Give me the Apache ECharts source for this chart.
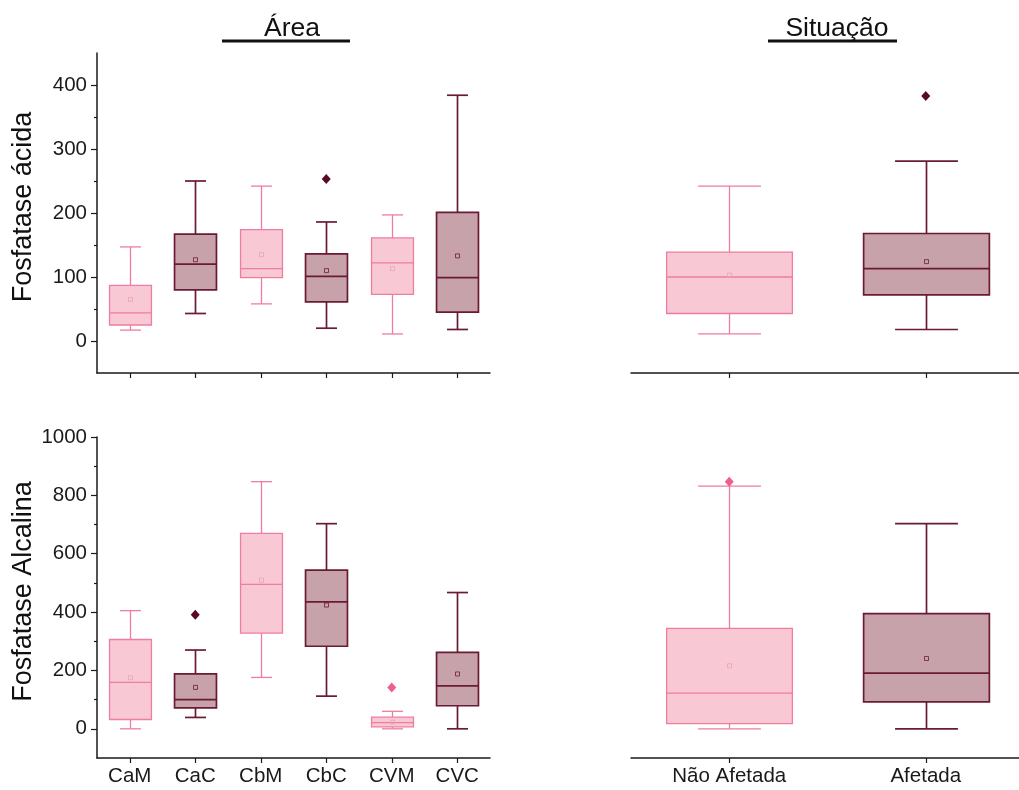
<!DOCTYPE html>
<html>
<head>
<meta charset="utf-8">
<script src="https://cdn.jsdelivr.net/npm/echarts@6/dist/echarts.min.js"></script>
<style>
html,body{margin:0;padding:0;background:#fff;}
#c{width:1019px;height:790px;}
</style>
</head>
<body>
<div id="c"></div>
<script>
// ---------- DATA ----------
const areaCats = ['CaM', 'CaC', 'CbM', 'CbC', 'CVM', 'CVC'];
const sitCats = ['Não Afetada', 'Afetada'];

// [min, Q1, median, Q3, max]
const acidArea = [
  [17, 25, 44, 87, 147],
  [43, 80, 120, 167, 250],
  [58, 99, 113, 174, 242],
  [20, 61, 101, 136, 186],
  [11, 73, 122, 161, 197],
  [18, 45, 99, 201, 384]
];
const acidAreaMean = [65, 127, 135, 110, 113, 133];
const acidAreaOutliers = [[3, 253]];

const alkArea = [
  [0, 32, 159, 306, 405],
  [39, 72, 100, 188, 270],
  [176, 328, 495, 670, 847],
  [112, 283, 435, 544, 703],
  [0, 7, 21, 40, 60],
  [0, 79, 147, 262, 467]
];
const alkAreaMean = [175, 142, 509, 424, 23, 188];
const alkAreaOutliers = [[1, 391], [4, 142]];

const acidSit = [
  [11, 43, 100, 139, 242],
  [18, 72, 113, 168, 281]
];
const acidSitMean = [103, 124];
const acidSitOutliers = [[1, 383]];

const alkSit = [
  [0, 18, 122, 344, 832],
  [0, 92, 191, 395, 703]
];
const alkSitMean = [216, 241];
const alkSitOutliers = [[0, 847]];

const acidTicks = [0, 100, 200, 300, 400];
const acidMinorTicks = [50, 150, 250, 350];
const alkTicks = [0, 200, 400, 600, 800, 1000];
const alkMinorTicks = [100, 300, 500, 700, 900];

const acidName = 'Fosfatase ácida';
const alkName = 'Fosfatase Alcalina';
const areaTitle = 'Área';
const sitTitle = 'Situação';

// ---------- STYLE ----------
const FONT = '"Liberation Sans", Arial, sans-serif';
const TONE = {
  light: { fill: '#f9c8d5', stroke: '#ee7d9f', mean: '#e9a3b6', out: '#ef5f8b', lw: 1.3 },
  dark:  { fill: '#c8a2ab', stroke: '#6a1b33', mean: '#6a1b33', out: '#5a0925', lw: 1.7 }
};
const areaTone = i => (i % 2 === 0 ? TONE.light : TONE.dark);
const sitTone = i => (i === 0 ? TONE.light : TONE.dark);

function buildBoxData(stats, means) {
  return stats.map((s, i) => [i].concat(s).concat([means[i]]));
}

function makeRender(toneFn) {
  return function (params, api) {
    const i = api.value(0);
    const t = toneFn(i);
    const band = api.size([1, 0])[0];
    const bw = band * 0.64;
    const cw = bw / 2;
    const pMin = api.coord([i, api.value(1)]);
    const pQ1 = api.coord([i, api.value(2)]);
    const pMed = api.coord([i, api.value(3)]);
    const pQ3 = api.coord([i, api.value(4)]);
    const pMax = api.coord([i, api.value(5)]);
    const pMean = api.coord([i, api.value(6)]);
    const x = Math.round(pMin[0]) + 0.5;
    const ls = { stroke: t.stroke, lineWidth: t.lw };
    return {
      type: 'group',
      children: [
        { type: 'line', shape: { x1: x, y1: pMax[1], x2: x, y2: pQ3[1] }, style: ls },
        { type: 'line', shape: { x1: x, y1: pQ1[1], x2: x, y2: pMin[1] }, style: ls },
        { type: 'line', shape: { x1: x - cw / 2, y1: pMax[1], x2: x + cw / 2, y2: pMax[1] }, style: ls },
        { type: 'line', shape: { x1: x - cw / 2, y1: pMin[1], x2: x + cw / 2, y2: pMin[1] }, style: ls },
        { type: 'rect', shape: { x: x - bw / 2, y: pQ3[1], width: bw, height: pQ1[1] - pQ3[1] },
          style: { fill: t.fill, stroke: t.stroke, lineWidth: t.lw } },
        { type: 'line', shape: { x1: x - bw / 2, y1: pMed[1], x2: x + bw / 2, y2: pMed[1] }, style: ls },
        { type: 'rect', shape: { x: x - 2, y: pMean[1] - 2, width: 4, height: 4 },
          style: { fill: 'none', stroke: t.mean, lineWidth: 0.8 } }
      ]
    };
  };
}

const grids = [
  { left: 97, top: 53, width: 393, height: 320 },
  { left: 97, top: 437, width: 393, height: 321 },
  { left: 631, top: 53, width: 393, height: 320 },
  { left: 631, top: 437, width: 393, height: 321 }
].map(g => Object.assign({ outerBoundsMode: 'none', containLabel: false }, g));

const axisLine = { show: true, onZero: false, lineStyle: { color: '#1a1a1a', width: 1.5 } };

function xAx(gi, cats, showLabel) {
  return {
    type: 'category', gridIndex: gi, data: cats, boundaryGap: true,
    axisLine: axisLine,
    axisTick: { show: true, alignWithLabel: true, length: 5, lineStyle: { color: '#1a1a1a', width: 1.2 } },
    axisLabel: { show: showLabel, fontFamily: FONT, fontSize: 20.5, color: '#1a1a1a', margin: 8 },
    splitLine: { show: false }
  };
}

function yMain(gi, min, max, interval, ticks, name, visible) {
  return {
    type: 'value', gridIndex: gi, min: min, max: max, interval: interval,
    show: visible,
    name: visible ? name : '',
    nameLocation: 'middle', nameGap: 60, nameMoveOverlap: false,
    nameTextStyle: { fontFamily: FONT, fontSize: 27, color: '#111', padding: [0, 0, 0, 12] },
    axisLine: axisLine,
    axisTick: { show: true, length: 6, customValues: ticks, lineStyle: { color: '#1a1a1a', width: 1.2 } },
    axisLabel: { show: true, customValues: ticks, formatter: v => String(v),
      fontFamily: FONT, fontSize: 20.5, color: '#1a1a1a', margin: 10 },
    splitLine: { show: false }
  };
}

function yMinor(gi, min, max, interval, ticks) {
  return {
    type: 'value', gridIndex: gi, min: min, max: max, interval: interval, position: 'left',
    axisLine: { show: false, onZero: false },
    axisTick: { show: true, length: 3, customValues: ticks, lineStyle: { color: '#1a1a1a', width: 1.2 } },
    axisLabel: { show: false },
    splitLine: { show: false }
  };
}

const xAxis = [
  xAx(0, areaCats, false),
  xAx(1, areaCats, true),
  xAx(2, sitCats, false),
  xAx(3, sitCats, true)
];

const yAxis = [
  yMain(0, -50, 450, 50, acidTicks, acidName, true),
  yMain(1, -100, 1000, 100, alkTicks, alkName, true),
  yMain(2, -50, 450, 50, acidTicks, '', false),
  yMain(3, -100, 1000, 100, alkTicks, '', false),
  yMinor(0, -50, 450, 50, acidMinorTicks),
  yMinor(1, -100, 1000, 100, alkMinorTicks)
];

function boxSeries(idx, stats, means, toneFn) {
  return {
    type: 'custom', xAxisIndex: idx, yAxisIndex: idx,
    renderItem: makeRender(toneFn),
    encode: { x: 0, y: [1, 2, 3, 4, 5, 6] },
    data: buildBoxData(stats, means),
    silent: true, z: 2
  };
}
function outSeries(idx, pts, toneFn) {
  return {
    type: 'scatter', xAxisIndex: idx, yAxisIndex: idx,
    symbol: 'diamond', symbolSize: [9, 10],
    itemStyle: { color: p => toneFn(p.value[0]).out, opacity: 1 },
    data: pts, silent: true, z: 3
  };
}

const option = {
  backgroundColor: '#fff',
  animation: false,
  title: [
    { text: areaTitle, left: 287, top: 10, textAlign: 'center',
      textStyle: { fontFamily: FONT, fontSize: 26.5, fontWeight: 'normal', color: '#111' } },
    { text: sitTitle, left: 832, top: 10, textAlign: 'center',
      textStyle: { fontFamily: FONT, fontSize: 26.5, fontWeight: 'normal', color: '#111' } }
  ],
  graphic: [
    { type: 'line', shape: { x1: 222, y1: 41, x2: 350, y2: 41 }, style: { stroke: '#111', lineWidth: 3 } },
    { type: 'line', shape: { x1: 768, y1: 41, x2: 897, y2: 41 }, style: { stroke: '#111', lineWidth: 3 } }
  ],
  grid: grids,
  xAxis: xAxis,
  yAxis: yAxis,
  series: [
    boxSeries(0, acidArea, acidAreaMean, areaTone),
    boxSeries(1, alkArea, alkAreaMean, areaTone),
    boxSeries(2, acidSit, acidSitMean, sitTone),
    boxSeries(3, alkSit, alkSitMean, sitTone),
    outSeries(0, acidAreaOutliers, areaTone),
    outSeries(1, alkAreaOutliers, areaTone),
    outSeries(2, acidSitOutliers, sitTone),
    outSeries(3, alkSitOutliers, sitTone)
  ]
};

const chart = echarts.init(document.getElementById('c'), null, { renderer: 'canvas' });
chart.setOption(option);
</script>
</body>
</html>
